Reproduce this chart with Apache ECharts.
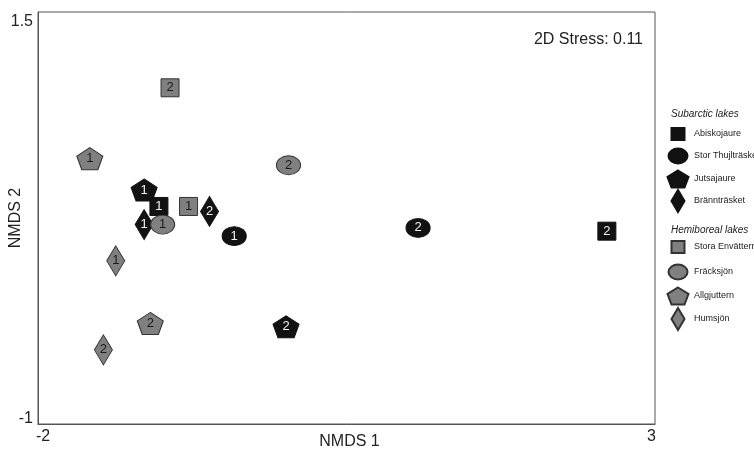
<!DOCTYPE html>
<html>
<head>
<meta charset="utf-8">
<script src="https://cdn.jsdelivr.net/npm/echarts@6/dist/echarts.min.js"></script>
<style>html,body{margin:0;padding:0;background:#fff}#chart{width:754px;height:450px}</style>
</head>
<body>
<div id="chart"></div>
<script>
// ---- data ----
const lakes = ['Abiskojaure', 'Stor Thujlträske', 'Jutsajaure', 'Brännträsket',
               'Stora Envättern', 'Fräcksjön', 'Allgjuttern', 'Humsjön'];
const lakeGroups = ['Subarctic', 'Subarctic', 'Subarctic', 'Subarctic',
                    'Hemiboreal', 'Hemiboreal', 'Hemiboreal', 'Hemiboreal'];
const siteLabels = ['1', '2'];
const site1X = [-1.02, -0.41, -1.14, -1.14, -0.78, -0.99, -1.58, -1.37];
const site1Y = [0.32, 0.14, 0.42, 0.21, 0.32, 0.21, 0.61, -0.01];
const site2X = [2.61, 1.08, 0.01, -0.61, -0.93, 0.03, -1.09, -1.47];
const site2Y = [0.17, 0.19, -0.41, 0.29, 1.04, 0.57, -0.39, -0.55];
const xTickLabels = [-2, 3];
const yTickLabels = [-1, 1.5];
const groupTitles = ['Subarctic lakes', 'Hemiboreal lakes'];
const stressText = '2D Stress: 0.11';

// ---- styles ----
const FONT = "'Liberation Sans', Arial, sans-serif";
const shapes = {
  square: 'rect',
  ellipse: 'path://M0,50 A50,50 0 1,1 100,50 A50,50 0 1,1 0,50 Z',
  pentagon: 'path://M50,0 L100,38.2 L80.9,100 L19.1,100 L0,38.2 Z',
  diamond: 'path://M50,0 L100,50 L50,100 L0,50 Z'
};
const shapeOrder = ['square', 'ellipse', 'pentagon', 'diamond'];
const plotSize = { square: [18, 18], ellipse: [24, 19], pentagon: [26, 22], diamond: [18, 30] };
const legendSize = { square: [13, 12], ellipse: [19, 15], pentagon: [21, 17], diamond: [13, 22] };
const groupStyle = {
  Subarctic: { fill: '#121212', border: '#121212', text: '#f2f2f2' },
  Hemiboreal: { fill: '#808080', border: '#333333', text: '#1a1a1a' }
};
const legendRowY = [133, 155, 178, 200, 246, 271, 295, 318];
const headerY = [115, 231];

const series = lakes.map((name, i) => {
  const shape = shapeOrder[i % 4];
  const st = groupStyle[lakeGroups[i]];
  return {
    name: name,
    type: 'scatter',
    symbol: shapes[shape],
    symbolSize: plotSize[shape],
    itemStyle: { color: st.fill, borderColor: st.border, borderWidth: 1, opacity: 1 },
    label: {
      show: true, position: 'inside',
      formatter: p => p.value[2],
      color: st.text, fontSize: 13, fontFamily: FONT
    },
    emphasis: { disabled: true },
    data: [
      [site1X[i], site1Y[i], siteLabels[0]],
      [site2X[i], site2Y[i], siteLabels[1]]
    ]
  };
});

const legends = lakes.map((name, i) => {
  const shape = shapeOrder[i % 4];
  const [w, h] = legendSize[shape];
  return {
    data: [name],
    left: 677 - w / 2,
    top: legendRowY[i] - h / 2,
    padding: 0,
    itemWidth: w,
    itemHeight: h,
    symbolKeepAspect: false,
    selectedMode: false,
    textStyle: {
      fontSize: 9, fontFamily: FONT, color: '#222',
      padding: [0, 0, 0, 693 - (677 + w / 2 + 5)]
    }
  };
});

const chart = echarts.init(document.getElementById('chart'), null, { renderer: 'canvas' });
chart.setOption({
  animation: false,
  backgroundColor: '#fff',
  textStyle: { fontFamily: FONT },
  title: {
    text: stressText, right: 111, top: 32, padding: 0,
    textStyle: { fontSize: 16, fontWeight: 'normal', color: '#222', fontFamily: FONT }
  },
  grid: {
    left: 38, right: 99, top: 12, bottom: 26, containLabel: false, outerBoundsMode: 'none',
    show: true, borderColor: '#555', borderWidth: 1, backgroundColor: 'transparent'
  },
  xAxis: {
    type: 'value', min: -2, max: 3, interval: 0.5,
    name: 'NMDS 1', nameLocation: 'middle', nameGap: 10, nameMoveOverlap: false,
    nameTextStyle: { fontSize: 16, color: '#222', fontFamily: FONT, verticalAlign: 'top', padding: [0, 0, 0, 6] },
    axisLine: { show: true, onZero: false, lineStyle: { color: '#555' } },
    axisTick: { show: false },
    splitLine: { show: false },
    axisLabel: {
      margin: 5, fontSize: 16, color: '#222',
      formatter: v => v === xTickLabels[0] ? '{l|' + v + '}' : (v === xTickLabels[1] ? '{r|' + v + '}' : ''),
      rich: {
        l: { fontSize: 16, color: '#222', fontFamily: FONT, padding: [0, 0, 0, 10] },
        r: { fontSize: 16, color: '#222', fontFamily: FONT, padding: [0, 7, 0, 0] }
      }
    }
  },
  yAxis: {
    type: 'value', min: -1, max: 1.5, interval: 0.5,
    name: 'NMDS 2', nameLocation: 'middle', nameGap: 14, nameRotate: 90, nameMoveOverlap: false,
    nameTextStyle: { fontSize: 16, color: '#222', fontFamily: FONT },
    axisLine: { show: true, onZero: false, lineStyle: { color: '#555' } },
    axisTick: { show: false },
    splitLine: { show: false },
    axisLabel: {
      margin: 5, fontSize: 16, color: '#222',
      formatter: v => v === yTickLabels[1] ? '{t|' + v + '}' : (v === yTickLabels[0] ? '{b|' + v + '}' : ''),
      rich: {
        t: { fontSize: 16, color: '#222', fontFamily: FONT, padding: [20, 0, 0, 0] },
        b: { fontSize: 16, color: '#222', fontFamily: FONT, padding: [0, 0, 10, 0] }
      }
    }
  },
  legend: legends,
  graphic: groupTitles.map((t, k) => ({
    type: 'text', left: 671, top: headerY[k] - 6,
    style: { text: t, font: 'italic 10px ' + FONT, fill: '#222' }
  })),
  series: series
});
</script>
</body>
</html>
